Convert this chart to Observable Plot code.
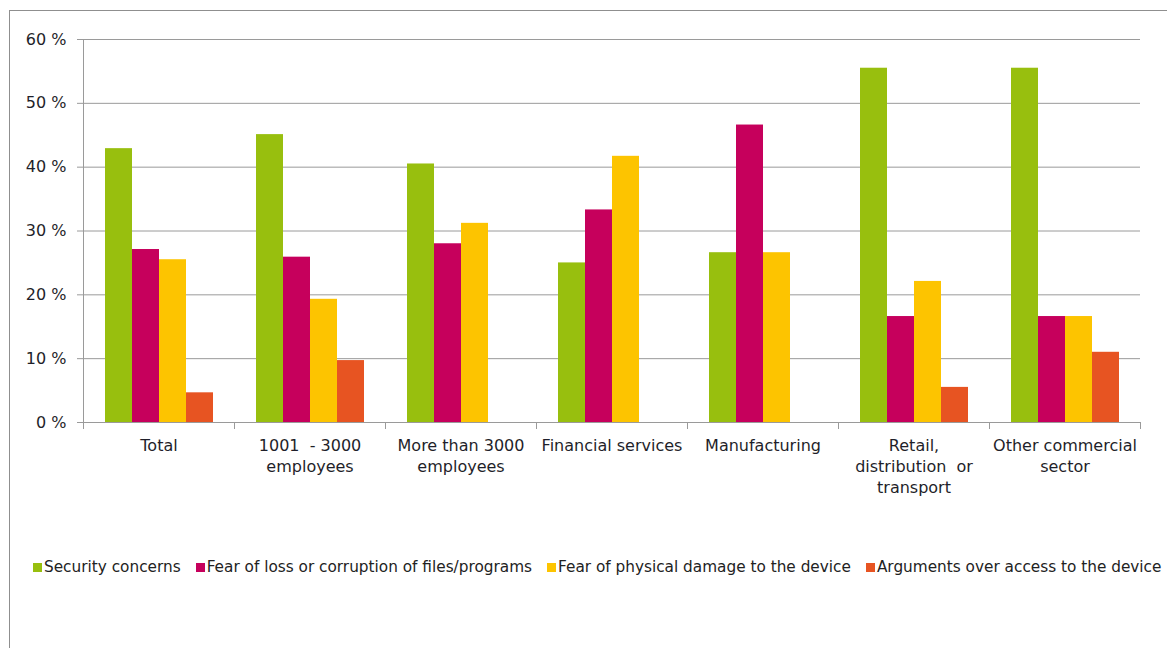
<!DOCTYPE html>
<html>
<head>
<meta charset="utf-8">
<script src="https://cdn.jsdelivr.net/npm/d3@7"></script>
<script src="https://cdn.jsdelivr.net/npm/@observablehq/plot@0.6"></script>
<style>
  html, body { margin: 0; padding: 0; background: #fff; overflow: hidden; width: 1167px; height: 648px; }
  #wrap { position: relative; width: 1167px; height: 648px; font-family: "DejaVu Sans", Verdana, sans-serif; }
  #box { position: absolute; left: 9px; top: 10px; width: 1300px; height: 800px; border: 1px solid #8f8f8f; box-sizing: border-box; }
  #chart { position: absolute; left: 0; top: 0; }
  #legend { position: absolute; left: 33px; top: 557px; display: flex; white-space: nowrap; font-size: 15.3px; line-height: 20px; color: #222; }
  .item { display: flex; align-items: center; margin-right: 15px; }
  .item:last-child { margin-right: 0; }
  .sw { width: 9px; height: 9px; margin-right: 2px; }
</style>
</head>
<body>
<div id="wrap">
  <div id="box"></div>
  <div id="chart"></div>
  <div id="legend"></div>
</div>
<script>
const categories = ["Total", "1001 - 3000 employees", "More than 3000 employees", "Financial services", "Manufacturing", "Retail, distribution or transport", "Other commercial sector"];
const categoryLabels = ["Total", "1001  - 3000\nemployees", "More than 3000\nemployees", "Financial services", "Manufacturing", "Retail,\ndistribution  or\ntransport", "Other commercial\nsector"];
const series = ["Security concerns", "Fear of loss or corruption of files/programs", "Fear of physical damage to the device", "Arguments over access to the device"];
const colors = ["#98bf0e", "#c6005c", "#fdc400", "#e75422"];
const securityConcerns = [42.9, 45.1, 40.5, 25.0, 26.6, 55.5, 55.5];
const fearOfLoss = [27.1, 25.9, 28.0, 33.3, 46.6, 16.6, 16.6];
const fearOfDamage = [25.5, 19.3, 31.2, 41.7, 26.6, 22.1, 16.6];
const arguments_ = [4.65, 9.7, null, null, null, 5.5, 11.0];
const yTicks = [0, 10, 20, 30, 40, 50, 60];

const seriesValues = [securityConcerns, fearOfLoss, fearOfDamage, arguments_];
const data = [];
categories.forEach((c, i) => {
  series.forEach((s, j) => {
    const v = seriesValues[j][i];
    if (v != null) data.push({category: c, series: s, value: v});
  });
});
const labelOf = new Map(categories.map((c, i) => [c, categoryLabels[i]]));

const chart = Plot.plot({
  width: 1167,
  height: 510,
  marginTop: 39,
  marginBottom: 88,
  marginLeft: 83,
  marginRight: 27,
  style: {fontFamily: "DejaVu Sans, Verdana, sans-serif", fontSize: "16px", background: "transparent", overflow: "visible"},
  fx: {domain: categories, padding: 0, label: null},
  x: {domain: series, paddingInner: 0, paddingOuter: 0.78, align: 0.5, axis: null},
  y: {domain: [0, 60], label: null},
  color: {domain: series, range: colors},
  marks: [
    Plot.gridY(yTicks, {stroke: "#9a9a9a", strokeOpacity: 1, strokeWidth: 1}),
    Plot.barY(data, {fx: "category", x: "series", y: "value", fill: "series"}),
    Plot.frame({anchor: "left", facetAnchor: "left", stroke: "#9a9a9a"}),
    Plot.frame({anchor: "left", stroke: "#9a9a9a", insetTop: 383, insetBottom: -6}),
    Plot.frame({anchor: "right", facetAnchor: "right", stroke: "#9a9a9a", insetTop: 383, insetBottom: -6}),
    Plot.axisY(yTicks, {tickFormat: d => d + " %", tickSize: 6, tickPadding: 11, stroke: "#9a9a9a", fill: "#1f1f2a", fontSize: 16, label: null}),
    Plot.axisFx({anchor: "bottom", tickSize: 0, tickPadding: 13, tickFormat: c => labelOf.get(c), fill: "#1f1f2a", fontSize: 16, lineHeight: 1.32, label: null})
  ]
});
document.getElementById("chart").appendChild(chart);

const legend = document.getElementById("legend");
series.forEach((s, i) => {
  const item = document.createElement("div");
  item.className = "item";
  const sw = document.createElement("span");
  sw.className = "sw";
  sw.style.background = colors[i];
  const t = document.createElement("span");
  t.textContent = s;
  item.appendChild(sw);
  item.appendChild(t);
  legend.appendChild(item);
});
</script>
</body>
</html>
